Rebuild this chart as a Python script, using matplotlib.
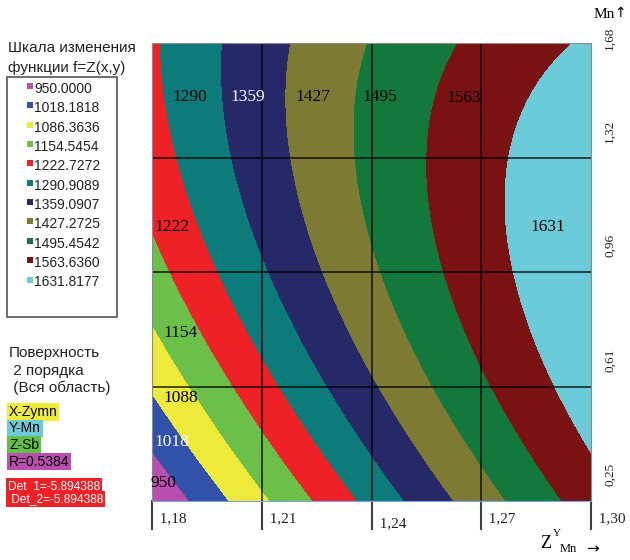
import numpy as np
import matplotlib
matplotlib.use("Agg")
import matplotlib.pyplot as plt
from matplotlib.patches import Rectangle
from matplotlib.transforms import blended_transform_factory

# -- Data --------------------------------------------------------------------

# second-order surface Z = a + b*x + c*y + d*x^2 + e*y^2 + f*x*y
SURF_COEFFS = [-21990.2362, 31624.3203, 2502.8448, -10412.9292, -156.6218, -1669.2143]
X_RANGE = (1.18, 1.30)
Y_RANGE = (0.25, 1.68)

LEVELS = [950.0000, 1018.1818, 1086.3636, 1154.5454, 1222.7272, 1290.9089,
          1359.0907, 1427.2725, 1495.4542, 1563.6360, 1631.8177]
LEVEL_LABELS = ["950.0000", "1018.1818", "1086.3636", "1154.5454", "1222.7272",
                "1290.9089", "1359.0907", "1427.2725", "1495.4542", "1563.6360",
                "1631.8177"]
COLORS = ["#b84fae", "#3152a8", "#eeea3c", "#6cc04a", "#ee2127", "#0e7b7b",
          "#262868", "#7c7a33", "#13783c", "#7a1113", "#6ccbd8"]

X_TICKS = [1.18, 1.21, 1.24, 1.27, 1.30]
X_TICK_LABELS = ["1,18", "1,21", "1,24", "1,27", "1,30"]
Y_TICKS = [0.25, 0.6075, 0.965, 1.3225, 1.68]
Y_TICK_LABELS = ["0,25", "0,61", "0,96", "1,32", "1,68"]

# in-plot band labels: text, x, y, colour
BAND_LABELS = [
    ("1290", 1.1904, 1.511, "black"),
    ("1359", 1.2062, 1.511, "white"),
    ("1427", 1.2240, 1.511, "black"),
    ("1495", 1.2423, 1.511, "black"),
    ("1563", 1.2653, 1.508, "black"),
    ("1631", 1.2882, 1.105, "black"),
    ("1222", 1.1855, 1.105, "black"),
    ("1154", 1.1879, 0.775, "black"),
    ("1088", 1.1879, 0.572, "black"),
    ("1018", 1.1855, 0.434, "white"),
    ("950", 1.1830, 0.306, "black"),
]

INFO_LINES = ["Поверхность", " 2 порядка", " (Вся область)"]
INFO_TAGS = [("X-Zymn", "#efeb3a", "black"), ("Y-Mn", "#6ccbd8", "black"),
             ("Z-Sb", "#62bf48", "black"), ("R=0.5384", "#b84fae", "black")]
DET_TAGS = ["Det_1=-5.894388", " Det_2=-5.894388"]

SERIF = ["Liberation Serif", "DejaVu Serif"]
SANS = ["Liberation Sans", "DejaVu Sans"]

W, H = 630, 560


def fx(px):
    return px / W


def fy(py):
    return 1 - py / H


# -- Figure ------------------------------------------------------------------

fig = plt.figure(figsize=(6.3, 5.6), dpi=100)
ax = fig.add_axes([fx(152), fy(501), fx(591) - fx(152), fy(43) - fy(501)])

xs = np.linspace(*X_RANGE, 400)
ys = np.linspace(*Y_RANGE, 400)
X, Y = np.meshgrid(xs, ys)
a, b, c, d, e, f = SURF_COEFFS
Z = a + b * X + c * Y + d * X * X + e * Y * Y + f * X * Y
ax.contourf(X, Y, Z, levels=LEVELS + [1e6], colors=COLORS, antialiased=False)

ax.set_xlim(*X_RANGE)
ax.set_ylim(*Y_RANGE)
ax.set_xticks([])
ax.set_yticks([])
for xv in X_TICKS[1:-1]:
    ax.axvline(xv, color="black", lw=1.2, alpha=0.8)
for yv in Y_TICKS[1:-1]:
    ax.axhline(yv, color="black", lw=1.2, alpha=0.8)
for side in ("top", "right", "left"):
    ax.spines[side].set_color("#8a8a8a")
ax.spines["bottom"].set_color("#7aa8da")

for txt, xv, yv, col in BAND_LABELS:
    ax.text(xv, yv, txt, color=col, fontsize=12.5, family=SERIF,
            ha="center", va="center")

# bottom axis: tick strokes hanging below the plot, labels to their right
bx = blended_transform_factory(ax.transData, ax.transAxes)
tick_len = 28 / 458
for i, (xv, lab) in enumerate(zip(X_TICKS, X_TICK_LABELS)):
    ax.plot([xv, xv], [0, -tick_len], color="#404040", lw=1.5,
            transform=bx, clip_on=False)
    dy = -0.050 if i == 2 else -0.038
    ax.text(xv, dy, "  " + lab, transform=bx, fontsize=11, family=SERIF,
            ha="left", va="center", color="#222222")

# right axis: rotated labels just above each grid line
by = blended_transform_factory(ax.transAxes, ax.transData)
for i, (yv, lab) in enumerate(zip(Y_TICKS, Y_TICK_LABELS)):
    yoff = 0.016 if i == len(Y_TICKS) - 1 else 0.083
    ax.text(1.043, yv + yoff, lab, transform=by, fontsize=9.5, family=SERIF,
            rotation=90, ha="center", va="center", color="#222222")

# axis names
fig.text(fx(594), fy(14), "Mn", fontsize=11, family=SERIF, ha="left", va="center")
fig.text(fx(614), fy(13), "↑", fontsize=10, family=["DejaVu Sans"], ha="left", va="center")
fig.text(fx(540), fy(543), "Z", fontsize=13, family=SERIF, ha="left", va="center")
fig.text(fx(553), fy(534), "Y", fontsize=8, family=SERIF, ha="left", va="center")
fig.text(fx(560), fy(549), "Mn", fontsize=9, family=SERIF, ha="left", va="center")
fig.text(fx(586), fy(549), "→", fontsize=11, family=["DejaVu Sans"], ha="left", va="center")

# -- Left legend panel -------------------------------------------------------

fig.text(fx(8), fy(48), "Шкала изменения", fontsize=11, family=SANS,
         ha="left", va="center", color="#222222")
fig.text(fx(8), fy(68), "функции f=Z(x,y)", fontsize=11, family=SANS,
         ha="left", va="center", color="#222222")
fig.patches.append(Rectangle((fx(7), fy(317)), fx(117) - fx(7), fy(77) - fy(317),
                             transform=fig.transFigure, fill=False,
                             ec="#555555", lw=1.2))
for i, (lab, col) in enumerate(zip(LEVEL_LABELS, COLORS)):
    py = 88 + 19.35 * i
    fig.patches.append(Rectangle((fx(27), fy(py + 1)), fx(6), 6 / H,
                                 transform=fig.transFigure, fc=col, ec="none"))
    fig.text(fx(34), fy(py + 1), lab, fontsize=10, family=SANS,
             ha="left", va="center", color="#222222")

for i, line in enumerate(INFO_LINES):
    fig.text(fx(9), fy(353 + 17.5 * i), line, fontsize=11, family=SANS,
             ha="left", va="center", color="#222222")

for i, (lab, bg, fg) in enumerate(INFO_TAGS):
    fig.text(fx(9), fy(412 + 16.5 * i), lab, fontsize=10, family=SANS,
             ha="left", va="center", color=fg,
             bbox=dict(boxstyle="square,pad=0.12", fc=bg, ec="none"))

for i, lab in enumerate(DET_TAGS):
    fig.text(fx(8), fy(486 + 13 * i), lab, fontsize=8.6, family=SANS,
             ha="left", va="center", color="white",
             bbox=dict(boxstyle="square,pad=0.15", fc="#ee2127", ec="none"))

fig.savefig("out.png", dpi=100)
